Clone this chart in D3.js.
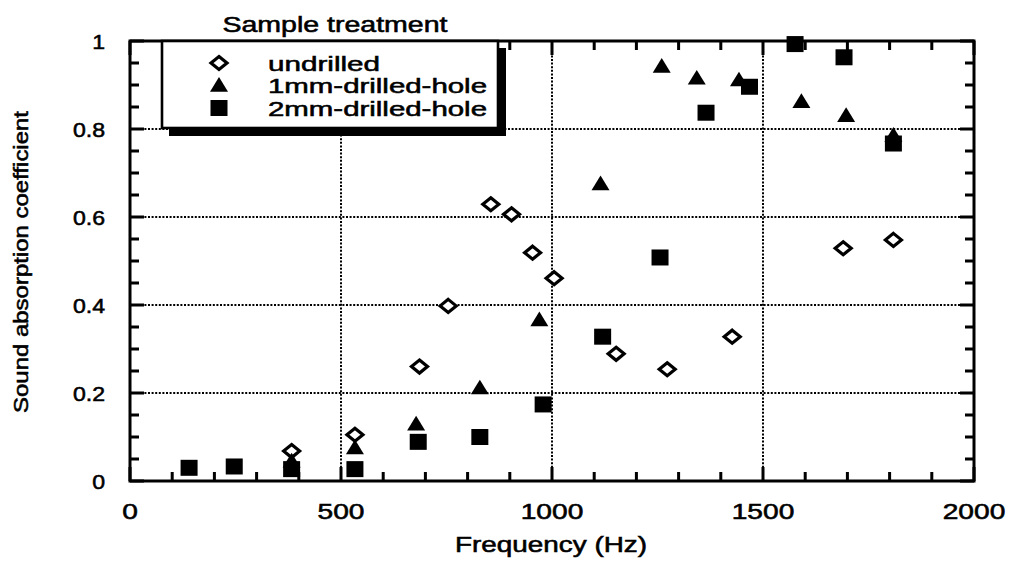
<!DOCTYPE html>
<html><head><meta charset="utf-8">
<script src="https://cdn.jsdelivr.net/npm/d3@7"></script>
<style>
body{margin:0;background:#fff}
text{font-family:"Liberation Sans",Arial,Helvetica,sans-serif;fill:#000;stroke:#000;stroke-width:0.55px}
</style>
</head><body>
<svg id="chart" width="1011" height="561"></svg>
<script>
// ---- data ----
const seriesNames = ["undrilled", "1mm-drilled-hole", "2mm-drilled-hole"];
const undrilledFreq = [383, 533, 686, 754, 855, 904, 954, 1005, 1152, 1273, 1427, 1690, 1809];
const undrilledAbs  = [0.068, 0.105, 0.26, 0.398, 0.629, 0.606, 0.519, 0.461, 0.289, 0.254, 0.328, 0.529, 0.548];
const mm1Freq = [383, 533, 678, 829, 970, 1115, 1260, 1343, 1443, 1591, 1697, 1809];
const mm1Abs  = [0.045, 0.075, 0.129, 0.211, 0.366, 0.675, 0.942, 0.915, 0.911, 0.862, 0.83, 0.785];
const mm2Freq = [140, 247, 383, 533, 683, 829, 979, 1120, 1256, 1365, 1468, 1576, 1692, 1809];
const mm2Abs  = [0.030, 0.033, 0.027, 0.027, 0.089, 0.10, 0.174, 0.328, 0.508, 0.837, 0.896, 0.993, 0.963, 0.767];
const xTickValues = [0, 500, 1000, 1500, 2000];
const xTickLabels = ["0", "500", "1000", "1500", "2000"];
const yTickValues = [0, 0.2, 0.4, 0.6, 0.8, 1];
const yTickLabels = ["0", "0.2", "0.4", "0.6", "0.8", "1"];
const xMinorStep = 100, yMinorStep = 0.05;
const xTitle = "Frequency (Hz)";
const yTitle = "Sound absorption coefficient";
const legendTitle = "Sample treatment";

// ---- layout ----
const L = 130, R = 974, T = 41, B = 481;
const x = d3.scaleLinear().domain([0, 2000]).range([L, R]);
const y = d3.scaleLinear().domain([0, 1]).range([B, T]);
const svg = d3.select("#chart");

const zip = (a, b) => a.map((v, i) => [v, b[i]]);
const series = [zip(undrilledFreq, undrilledAbs), zip(mm1Freq, mm1Abs), zip(mm2Freq, mm2Abs)];

// gridlines (dotted)
const grid = svg.append("g").attr("stroke", "#000").attr("stroke-width", 2).attr("stroke-dasharray", "2,1.6");
grid.selectAll("line.gx").data(xTickValues.slice(1, -1)).join("line").attr("class", "gx")
  .attr("x1", d => x(d)).attr("x2", d => x(d)).attr("y1", T).attr("y2", B);
grid.selectAll("line.gy").data(yTickValues.slice(1, -1)).join("line").attr("class", "gy")
  .attr("y1", d => y(d)).attr("y2", d => y(d)).attr("x1", L).attr("x2", R);

// ticks (inward)
const xMinor = d3.range(0, 21).map(i => i * xMinorStep);
const yMinor = d3.range(0, 21).map(i => +(i * yMinorStep).toFixed(2));
const tickLen = (v, majors) => majors.some(m => Math.abs(m - v) < 1e-9) ? 14 : 9;
const tg = svg.append("g").attr("fill", "#000");
xMinor.forEach(v => {
  const len = tickLen(v, xTickValues);
  tg.append("rect").attr("x", x(v) - 1.5).attr("y", B - len).attr("width", 3).attr("height", len);
  tg.append("rect").attr("x", x(v) - 1.5).attr("y", T).attr("width", 3).attr("height", len);
});
yMinor.forEach(v => {
  const len = tickLen(v, yTickValues);
  tg.append("rect").attr("x", L).attr("y", y(v) - 1.5).attr("width", len).attr("height", 3);
  tg.append("rect").attr("x", R - len).attr("y", y(v) - 1.5).attr("width", len).attr("height", 3);
});

// frame
svg.append("rect").attr("x", L).attr("y", T).attr("width", R - L).attr("height", B - T)
  .attr("fill", "none").attr("stroke", "#000").attr("stroke-width", 3);

// tick labels
svg.append("g").selectAll("text").data(xTickValues).join("text")
  .attr("transform", d => `translate(${x(d)},519) scale(1.28,1)`)
  .attr("text-anchor", "middle").attr("font-size", 22)
  .text((d, i) => xTickLabels[i]);
svg.append("g").selectAll("text").data(yTickValues).join("text")
  .attr("transform", d => `translate(105,${y(d) + 7.5}) scale(1.1,1)`)
  .attr("text-anchor", "end").attr("font-size", 21)
  .text((d, i) => yTickLabels[i]);

// axis titles
svg.append("text").attr("x", (L + R) / 2 - 1).attr("y", 552).attr("text-anchor", "middle")
  .attr("font-size", 22).attr("textLength", 192).attr("lengthAdjust", "spacingAndGlyphs")
  .text(xTitle);
svg.append("text").attr("transform", "translate(28,262) rotate(-90)").attr("text-anchor", "middle")
  .attr("font-size", 20).attr("textLength", 302).attr("lengthAdjust", "spacingAndGlyphs")
  .text(yTitle);

// markers
const diamondPath = "M0,-6.5L8,0L0,6.5L-8,0Z";
const trianglePath = "M0,-8.5L9,6.2L-9,6.2Z";
function drawMarker(g, k) {
  if (k === 0) g.append("path").attr("d", diamondPath).attr("fill", "#fff").attr("stroke", "#000").attr("stroke-width", 3.2);
  else if (k === 1) g.append("path").attr("d", trianglePath).attr("fill", "#000");
  else g.append("rect").attr("x", -8.5).attr("y", -8).attr("width", 17).attr("height", 16).attr("fill", "#000");
}
series.forEach((pts, k) => {
  svg.append("g").selectAll("g").data(pts).join("g")
    .attr("transform", d => `translate(${x(d[0])},${y(d[1])})`)
    .each(function () { drawMarker(d3.select(this), k); });
});

// legend
svg.append("rect").attr("x", 169).attr("y", 48).attr("width", 337).attr("height", 88).attr("fill", "#000");
svg.append("rect").attr("x", 162).attr("y", 41).attr("width", 336).attr("height", 87)
  .attr("fill", "#fff").attr("stroke", "#000").attr("stroke-width", 2.6);
const legendLens = [112, 219, 219];
seriesNames.forEach((name, k) => {
  const cy = 63 + k * 22.5;
  drawMarker(svg.append("g").attr("transform", `translate(219,${cy})`), k);
  svg.append("text").attr("x", 268).attr("y", cy + 7.5).attr("font-size", 21)
    .attr("textLength", legendLens[k]).attr("lengthAdjust", "spacingAndGlyphs").text(name);
});
svg.append("text").attr("x", 335).attr("y", 32).attr("text-anchor", "middle").attr("font-size", 22)
  .attr("textLength", 225).attr("lengthAdjust", "spacingAndGlyphs").text(legendTitle);
</script>
</body></html>
